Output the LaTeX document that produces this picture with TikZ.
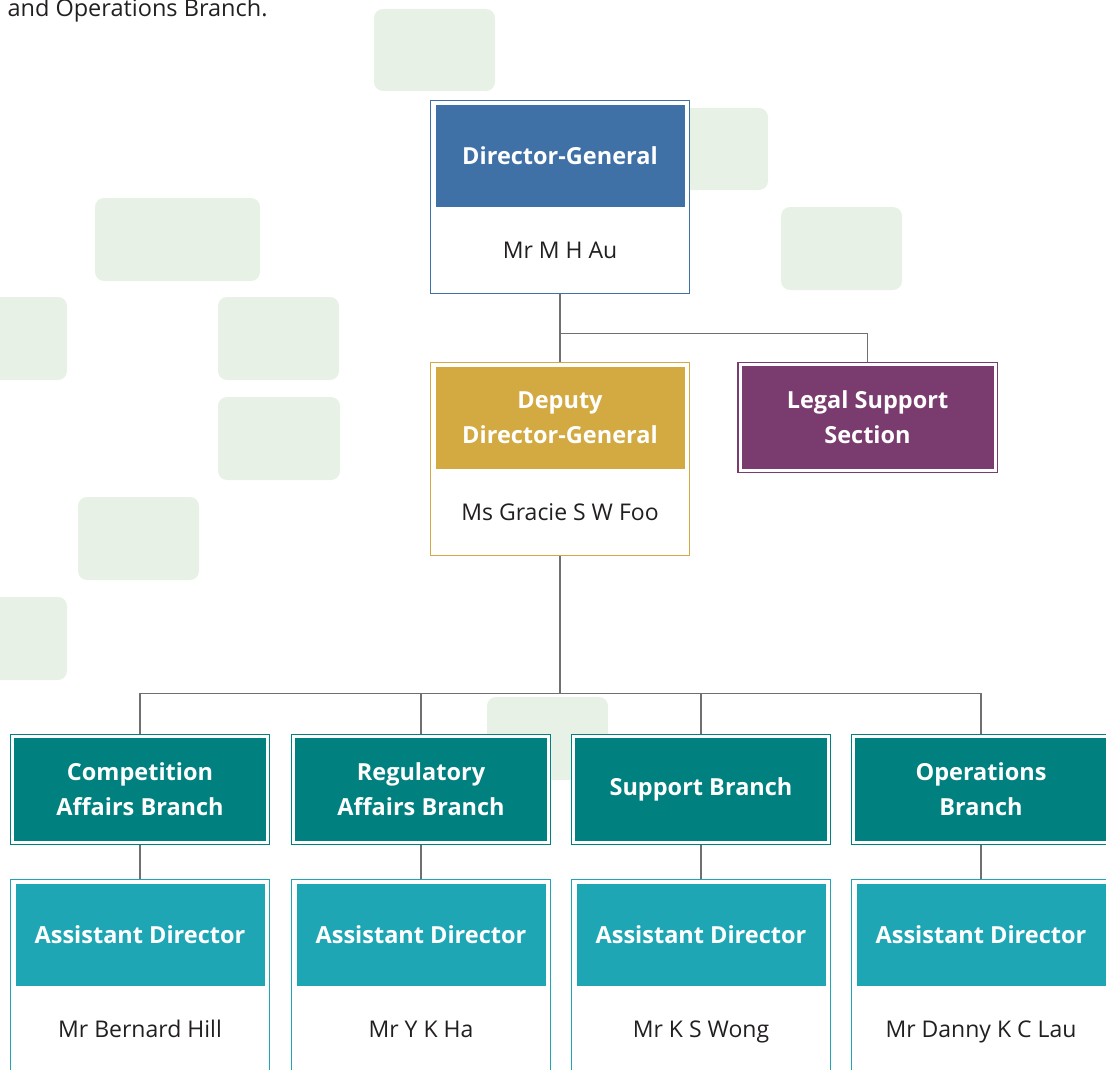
\documentclass[tikz,border=0pt]{standalone}
\usepackage{fontspec}
\setmainfont{Open Sans}
\usepackage{tikz}
\usetikzlibrary{positioning, calc}

\definecolor{dgblue}{HTML}{3F70A6}
\definecolor{depgold}{HTML}{D3AA42}
\definecolor{legalpurple}{HTML}{7A3B6E}
\definecolor{branchteal}{HTML}{00807F}
\definecolor{adcyan}{HTML}{1EA6B5}
\definecolor{tilegreen}{HTML}{E7F1E6}
\definecolor{linkgray}{HTML}{707070}
\definecolor{namegray}{HTML}{231F20}

\newcommand{\headfont}{\fontsize{23.5}{35}\selectfont\bfseries}
\newcommand{\namefont}{\fontsize{23}{26}\selectfont}

\begin{document}
\begin{tikzpicture}[
    x=1pt, y=-1pt,
    tile/.style={fill=tilegreen, rounded corners=9pt},
    unitframe/.style={rectangle, draw=#1, line width=1.6pt, fill=white,
                 minimum width=259pt, minimum height=193pt,
                 inner sep=0pt, outer sep=0.8pt},
    headbox/.style={rectangle, fill=#1, text=white, font=\headfont, align=center,
                 minimum width=249pt, minimum height=102pt,
                 inner sep=0pt, outer sep=0pt},
    framedbox/.style={rectangle, fill=#1, draw=#1, double=white, double distance=3pt,
                 line width=1.2pt, text=white, font=\headfont, align=center,
                 minimum width=255pt, minimum height=106pt,
                 inner sep=0pt, outer sep=2.7pt},
    namebox/.style={font=\namefont, text=namegray, inner sep=0pt,
                 text height=16.5pt, text depth=0pt},
    link/.style={draw=linkgray, line width=1.2pt}
]
\useasboundingbox (0,0) rectangle (1106,1070);
\clip (0,0) rectangle (1106,1070);

% background tiles
\fill[tile] (374,9) rectangle ++(121,82);
\fill[tile] (647,108) rectangle ++(121,82);
\fill[tile] (781,207) rectangle ++(121,83);
\fill[tile] (95,198) rectangle ++(165,83);
\fill[tile] (-60,297) rectangle ++(127,83);
\fill[tile] (218,297) rectangle ++(121,83);
\fill[tile] (218,397) rectangle ++(122,83);
\fill[tile] (78,497) rectangle ++(121,83);
\fill[tile] (-60,597) rectangle ++(127,83);
\fill[tile] (487,697) rectangle ++(121,83);

\node[anchor=base west, font=\fontsize{23.5}{26}\selectfont, text=namegray] (intro) at (4,17) {and Operations Branch.};

% director-general
\node[unitframe=dgblue] (dg) at (560,197) {};
\node[headbox=dgblue, below=5pt of dg.north] (dghead) {Director-General};
\node[namebox] (dgname) at ($(dghead.south)!0.5!(dg.south)$) {Mr M H Au};

% deputy and legal
\node[unitframe=depgold] (dep) at (560,459) {};
\node[headbox=depgold, below=5pt of dep.north] (dephead) {Deputy\\Director-General};
\node[namebox] (depname) at ($(dephead.south)!0.5!(dep.south)$) {Ms Gracie S W Foo};
\node[framedbox=legalpurple] (legal) at (867.5,417.5) {Legal Support\\Section};

% branches
\node[framedbox=branchteal] (comp) at (140,789.5) {Competition\\Affairs Branch};
\node[framedbox=branchteal] (reg) at (421,789.5) {Regulatory\\Affairs Branch};
\node[framedbox=branchteal] (supp) at (701,789.5) {Support Branch};
\node[framedbox=branchteal] (ops) at (981,789.5) {Operations\\Branch};

% assistant directors
\node[unitframe=adcyan] (adcomp) at (140,976) {};
\node[headbox=adcyan, below=5pt of adcomp.north] (adcomphead) {Assistant Director};
\node[namebox] (adcompname) at ($(adcomphead.south)!0.5!(adcomp.south)$) {Mr Bernard Hill};
\node[unitframe=adcyan] (adreg) at (421,976) {};
\node[headbox=adcyan, below=5pt of adreg.north] (adreghead) {Assistant Director};
\node[namebox] (adregname) at ($(adreghead.south)!0.5!(adreg.south)$) {Mr Y K Ha};
\node[unitframe=adcyan] (adsupp) at (701,976) {};
\node[headbox=adcyan, below=5pt of adsupp.north] (adsupphead) {Assistant Director};
\node[namebox] (adsuppname) at ($(adsupphead.south)!0.5!(adsupp.south)$) {Mr K S Wong};
\node[unitframe=adcyan] (adops) at (981,976) {};
\node[headbox=adcyan, below=5pt of adops.north] (adopshead) {Assistant Director};
\node[namebox] (adopsname) at ($(adopshead.south)!0.5!(adops.south)$) {Mr Danny K C Lau};

% links
\coordinate (dgjoin) at ($(dg.south)+(0,39)$);
\coordinate (depjoin) at ($(dep.south)+(0,137)$);
\draw[link] (dg.south) -- (dep.north);
\draw[link] (dgjoin) -| (legal.north);
\draw[link] (dep.south) -- (depjoin);
\draw[link] (depjoin) -| (comp.north);
\draw[link] (depjoin) -| (reg.north);
\draw[link] (depjoin) -| (supp.north);
\draw[link] (depjoin) -| (ops.north);
\draw[link] (comp) -- (adcomp);
\draw[link] (reg) -- (adreg);
\draw[link] (supp) -- (adsupp);
\draw[link] (ops) -- (adops);
\end{tikzpicture}
\end{document}
